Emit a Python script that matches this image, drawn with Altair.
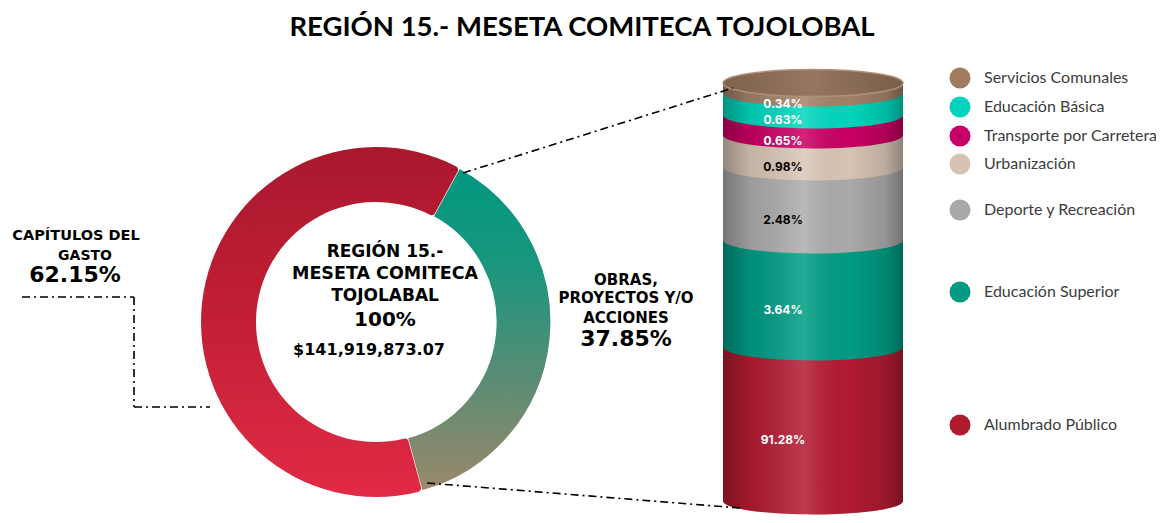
import altair as alt
import pandas as pd
import math

# ---------------- data ----------------
categories = ["Alumbrado Público", "Educación Superior", "Deporte y Recreación",
              "Urbanización", "Transporte por Carretera", "Educación Básica",
              "Servicios Comunales"]
values = [91.28, 3.64, 2.48, 0.98, 0.65, 0.63, 0.34]
value_labels = ["91.28%", "3.64%", "2.48%", "0.98%", "0.65%", "0.63%", "0.34%"]
band_colors = ["#b51b32", "#009e86", "#adadad", "#dbc7b7", "#cb0064", "#00d9bf", "#a3836a"]
legend_colors = ["#ae1a2e", "#009a84", "#aaa8a8", "#d6c3b5", "#c8006a", "#00d4be", "#a07c60"]
label_colors = ["white", "white", "black", "black", "white", "white", "white"]

donut_names = ["Obras, Proyectos y/o Acciones", "Capítulos del gasto"]
donut_values = [37.85, 62.15]
total_amount = "$141,919,873.07"

# ---------------- layout constants ----------------
FONT_CAPS = "DejaVu Sans"
CYL_L, CYL_R = 715, 895
CYL_C = (CYL_L + CYL_R) / 2
CYL_W = CYL_R - CYL_L
BOUND_PX = [493, 339, 232, 159, 127, 107, 85, 75]   # pixel positions of the band edges
LEGEND_Y = [417, 284, 202, 156, 128, 99, 70]
DONUT_X, DONUT_Y, R_OUT, R_IN = 368, 314, 175, 120
THETA0 = math.radians(28.5)

ELL = "M-1,0A1,0.15,0,1,0,1,0A1,0.15,0,1,0,-1,0Z"
HALF_ELL = "M-1,0A1,0.15,0,0,0,1,0Z"

# ---------------- tables ----------------
starts = []
acc = 0.0
for v in values:
    starts.append(round(acc, 4))
    acc += v
seg = pd.DataFrame({
    "cat": categories,
    "val": values,
    "lab": value_labels,
    "lc": label_colors,
    "y0": starts,
    "y1": [round(s + v, 4) for s, v in zip(starts, values)],
})
seg["mid"] = (seg["y0"] + seg["y1"]) / 2
bounds = starts + [round(acc, 4)]

yscale = alt.Scale(domain=bounds, range=BOUND_PX, nice=False, zero=False)
cscale = alt.Scale(domain=categories, range=band_colors)

# ---------------- cylinder ----------------
bands = alt.Chart(seg).mark_rect().encode(
    x=alt.value(CYL_L), x2=alt.value(CYL_R),
    y=alt.Y("y0:Q", scale=yscale, axis=None), y2="y1:Q",
    color=alt.Color("cat:N", scale=cscale, legend=None),
)
curves = alt.Chart(seg).mark_point(shape=ELL, size=CYL_W ** 2, filled=True,
                                   opacity=1, strokeWidth=0).encode(
    x=alt.value(CYL_C),
    y=alt.Y("y0:Q", scale=yscale, axis=None),
    color=alt.Color("cat:N", scale=cscale, legend=None),
)
shade = alt.LinearGradient(
    gradient="linear", x1=0, y1=0, x2=1, y2=0,
    stops=[
        alt.GradientStop(color="rgba(0,0,0,0.32)", offset=0),
        alt.GradientStop(color="rgba(0,0,0,0.10)", offset=0.15),
        alt.GradientStop(color="rgba(255,255,255,0.14)", offset=0.45),
        alt.GradientStop(color="rgba(0,0,0,0.02)", offset=0.7),
        alt.GradientStop(color="rgba(0,0,0,0.14)", offset=0.9),
        alt.GradientStop(color="rgba(0,0,0,0.34)", offset=1),
    ],
)
ends = pd.DataFrame({"lo": [bounds[0]], "hi": [bounds[-1]]})
shade_rect = alt.Chart(ends).mark_rect(color=shade).encode(
    x=alt.value(CYL_L), x2=alt.value(CYL_R),
    y=alt.Y("lo:Q", scale=yscale, axis=None), y2="hi:Q",
)
shade_bottom = alt.Chart(ends).mark_point(shape=HALF_ELL, size=CYL_W ** 2, filled=True,
                                          opacity=1, strokeWidth=0, color=shade).encode(
    x=alt.value(CYL_C), y=alt.Y("lo:Q", scale=yscale, axis=None),
)
top_grad = alt.LinearGradient(
    gradient="linear", x1=0, y1=0, x2=1, y2=0,
    stops=[
        alt.GradientStop(color="#7f624c", offset=0),
        alt.GradientStop(color="#957660", offset=0.5),
        alt.GradientStop(color="#7a5e49", offset=1),
    ],
)
top_face = alt.Chart(ends).mark_point(shape=ELL, size=CYL_W ** 2, filled=True, opacity=1,
                                      color=top_grad, stroke="#b09177", strokeWidth=1.5).encode(
    x=alt.value(CYL_C), y=alt.Y("hi:Q", scale=yscale, axis=None),
)
lab_w = alt.Chart(seg).transform_filter(alt.datum.lc == "white").mark_text(
    dy=16, fontSize=12, font="Inter", fontWeight="bold", color="white", align="center"
).encode(x=alt.value(775), y=alt.Y("mid:Q", scale=yscale, axis=None), text="lab:N")
lab_b = alt.Chart(seg).transform_filter(alt.datum.lc == "black").mark_text(
    dy=16, fontSize=12, font="Inter", fontWeight="bold", color="black", align="center"
).encode(x=alt.value(775), y=alt.Y("mid:Q", scale=yscale, axis=None), text="lab:N")

cylinder = alt.layer(bands, curves, shade_rect, shade_bottom, top_face, lab_w, lab_b)

# ---------------- legend ----------------
leg = pd.DataFrame({"cat": categories, "col": legend_colors, "ly": LEGEND_Y})
leg_dots = alt.Chart(leg).mark_point(shape="circle", size=440, filled=True, opacity=1,
                                     strokeWidth=0).encode(
    x=alt.value(952), y=alt.Y("ly:Q", scale=None),
    color=alt.Color("col:N", scale=None),
)
leg_text = alt.Chart(leg).mark_text(align="left", baseline="middle", fontSize=16,
                                    font="Lato", color="#3c3c3c").encode(
    x=alt.value(976), y=alt.Y("ly:Q", scale=None), text="cat:N",
)
legend = alt.layer(leg_dots, leg_text)

# ---------------- donut ----------------
dd = pd.DataFrame({"name": donut_names, "val": donut_values})
dd["a0"] = dd["val"].cumsum() - dd["val"]
dd["a1"] = dd["val"].cumsum()
tscale = alt.Scale(domain=[0, 100], range=[THETA0, THETA0 + 2 * math.pi])
teal_grad = alt.LinearGradient(
    gradient="linear", x1=0, y1=0, x2=0, y2=1,
    stops=[alt.GradientStop(color="#00977f", offset=0),
           alt.GradientStop(color="#1a967f", offset=0.3),
           alt.GradientStop(color="#5a8c74", offset=0.65),
           alt.GradientStop(color="#9a896a", offset=1)],
)
red_grad = alt.LinearGradient(
    gradient="linear", x1=0, y1=0, x2=0, y2=1,
    stops=[alt.GradientStop(color="#a9182d", offset=0),
           alt.GradientStop(color="#c31f36", offset=0.5),
           alt.GradientStop(color="#e12a46", offset=1)],
)
arc_teal = alt.Chart(dd).transform_filter(alt.datum.name == donut_names[0]).mark_arc(
    radius=R_OUT, radius2=R_IN, color=teal_grad, stroke="white", strokeWidth=1.2
).encode(x=alt.value(DONUT_X), y=alt.value(DONUT_Y),
         theta=alt.Theta("a0:Q", scale=tscale), theta2="a1:Q")
arc_red = alt.Chart(dd).transform_filter(alt.datum.name == donut_names[1]).mark_arc(
    radius=R_OUT, radius2=R_IN, color=red_grad, cornerRadius=4
).encode(x=alt.value(DONUT_X), y=alt.value(DONUT_Y),
         theta=alt.Theta("a0:Q", scale=tscale), theta2="a1:Q")
donut = alt.layer(arc_teal, arc_red)

# ---------------- annotations ----------------
ONE = alt.Data(values=[{"k": 1}])


def txt(s, x, y, size, font=FONT_CAPS, weight="bold", color="black",
        align="center", baseline="middle", **kw):
    return alt.Chart(ONE).mark_text(text=s, fontSize=size, font=font, fontWeight=weight,
                                    color=color, align=align, baseline=baseline, **kw).encode(
        x=alt.value(x), y=alt.value(y))


def dash(x1, y1, x2, y2):
    return alt.Chart(ONE).mark_rule(color="black", strokeWidth=1.6,
                                    strokeDash=[8, 4, 2, 4]).encode(
        x=alt.value(x1), y=alt.value(y1), x2=alt.value(x2), y2=alt.value(y2))


title = "REGIÓN 15.- MESETA COMITECA TOJOLOBAL"
texts = [
    txt(title, 574, 28, 27.5, font="Lato", baseline="alphabetic"),
    txt("CAPÍTULOS DEL", 68, 228, 14.5),
    txt("GASTO", 77, 248, 14),
    txt("62.15%", 67, 267, 22),
    txt("REGIÓN 15.-", 377, 244, 17),
    txt("MESETA COMITECA", 377, 266, 17.5),
    txt("TOJOLABAL", 377, 288, 17),
    txt("100%", 377, 312, 20),
    txt(total_amount, 361, 342, 16),
    txt("OBRAS,", 618, 272, 15),
    txt("PROYECTOS Y/O", 618, 290, 15),
    txt("ACCIONES", 618, 310, 15),
    txt("37.85%", 618, 331, 22),
]
lines = [
    dash(14, 289, 126, 289),
    dash(126, 289, 126, 399),
    dash(126, 399, 202, 399),
    dash(455, 165, 725, 80),
    dash(419, 475, 732, 500),
]

chart = alt.layer(donut, cylinder, legend, *lines, *texts).resolve_scale(
    y="independent", color="independent", theta="independent"
).properties(
    width=1148, height=507,
    autosize=alt.AutoSizeParams(type="none"),
    padding=0,
).configure_view(stroke=None)

chart.save("out.html", embed_options={"renderer": "svg", "actions": False})
